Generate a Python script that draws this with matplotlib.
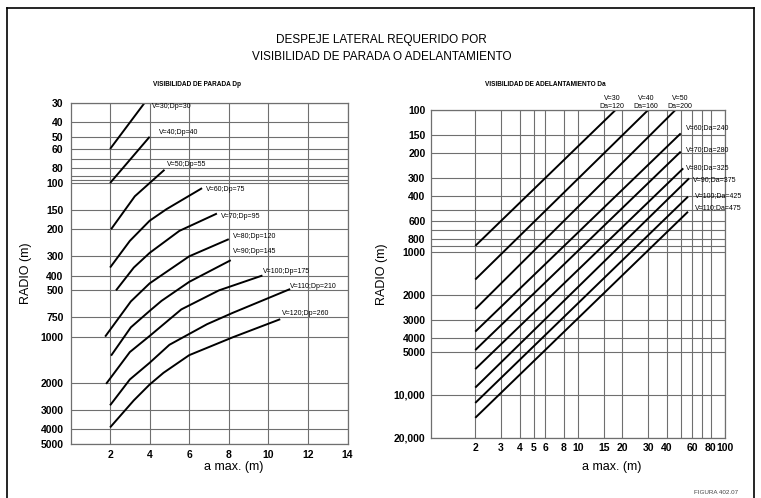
import matplotlib.pyplot as plt
from matplotlib.ticker import FixedLocator, NullFormatter, FixedFormatter
import numpy as np

# ---- Visibilidad de parada: puntos (a max, radio) de cada curva ----
parada_labels = ["V=30;Dp=30", "V=40;Dp=40", "V=50;Dp=55", "V=60;Dp=75", "V=70;Dp=95",
                 "V=80;Dp=120", "V=90;Dp=145", "V=100;Dp=175", "V=110;Dp=210", "V=120;Dp=260"]
parada_a = [
    [2.0, 3.75],
    [2.0, 4.0],
    [2.05, 3.25, 4.75],
    [2.0, 3.0, 4.0, 4.85, 6.65],
    [2.3, 3.2, 4.0, 5.5, 7.4],
    [1.75, 3.05, 4.0, 6.0, 8.0],
    [2.05, 3.05, 4.0, 4.6, 6.0, 8.1],
    [1.8, 3.0, 4.0, 5.6, 7.5, 9.7],
    [2.0, 3.0, 4.0, 5.0, 6.9, 8.2, 11.1],
    [2.0, 3.2, 4.0, 4.7, 6.0, 8.2, 10.6],
]
parada_r = [
    [60, 30],
    [100, 50],
    [200, 122, 82],
    [355, 238, 176, 148, 108],
    [500, 355, 285, 205, 158],
    [1000, 590, 450, 300, 232],
    [1330, 870, 680, 585, 440, 318],
    [2030, 1260, 990, 665, 500, 400],
    [2800, 1900, 1480, 1130, 830, 700, 490],
    [3900, 2600, 2050, 1720, 1320, 1010, 770],
]

# ---- Visibilidad de adelantamiento: rectas en log-log (inicio en a=2) ----
adel_labels = ["V=30\nDa=120", "V=40\nDa=160", "V=50\nDa=200", "V=60;Da=240", "V=70;Da=280",
               "V=80;Da=325", "V=90;Da=375", "V=100;Da=425", "V=110;Da=475"]
adel_a_ini = [2, 2, 2, 2, 2, 2, 2, 2, 2]
adel_r_ini = [900, 1550, 2500, 3600, 4850, 6600, 8900, 11400, 14500]
adel_a_fin = [18, 30, 46, 50, 50, 52, 57, 56, 56]
adel_r_fin = [100, 100, 100, 146, 196, 257, 302, 406, 518]

# ejes y rejillas
izq_yticks = [30, 40, 50, 60, 80, 100, 150, 200, 300, 400, 500, 750, 1000, 2000, 3000, 4000, 5000]
izq_yextra = [70, 90, 95]
izq_xticks = [2, 4, 6, 8, 10, 12, 14]
der_yticks = [100, 150, 200, 300, 400, 600, 800, 1000, 2000, 3000, 4000, 5000, 10000, 20000]
der_ylabels = ["100", "150", "200", "300", "400", "600", "800", "1000", "2000", "3000", "4000",
               "5000", "10,000", "20,000"]
der_yextra = [500, 700, 900]
der_xticks = [2, 3, 4, 5, 6, 8, 10, 15, 20, 30, 40, 60, 80, 100]
der_xextra = [50, 70]

W, H = 761, 498
SANS = ['Liberation Sans', 'DejaVu Sans']
GRID = '#6f6f6f'

fig = plt.figure(figsize=(W / 100, H / 100), dpi=100)


def box(x0, y0, x1, y1):
    return [x0 / W, 1 - y1 / H, (x1 - x0) / W, (y1 - y0) / H]


def ftext(x, y, s, **kw):
    fig.text(x / W, 1 - y / H, s, family=SANS, **kw)


def estilo(ax):
    for sp in ax.spines.values():
        sp.set_color(GRID)
        sp.set_linewidth(0.9)
    ax.grid(True, which='both', color=GRID, linewidth=0.8)
    ax.tick_params(which='both', length=0, labelsize=7.5, colors='black')
    for lab in ax.get_xticklabels() + ax.get_yticklabels():
        lab.set_family(SANS)
        lab.set_fontweight('bold')


# panel izquierdo
ax1 = fig.add_axes(box(70.5, 102.7, 347.5, 444))
ax1.set_yscale('log')
ax1.set_ylim(5000, 30)
ax1.set_xlim(0, 14)
ax1.yaxis.set_major_locator(FixedLocator(izq_yticks))
ax1.yaxis.set_major_formatter(FixedFormatter([str(v) for v in izq_yticks]))
ax1.yaxis.set_minor_locator(FixedLocator(izq_yextra))
ax1.yaxis.set_minor_formatter(NullFormatter())
ax1.xaxis.set_major_locator(FixedLocator(izq_xticks))
ax1.tick_params(axis='y', pad=5)
ax1.tick_params(axis='x', pad=4)
estilo(ax1)
for a, r in zip(parada_a, parada_r):
    ax1.plot(a, r, color='black', linewidth=1.4, solid_capstyle='butt')
ax1.set_ylabel("RADIO (m)", fontsize=9, family=SANS, labelpad=6)
ax1.text(0.59, -0.066, "a max. (m)", transform=ax1.transAxes, ha='center', va='center',
         fontsize=9, family=SANS)

# panel derecho
ax2 = fig.add_axes(box(431, 110, 725, 437.7))
ax2.set_xscale('log')
ax2.set_yscale('log')
ax2.set_xlim(1, 100)
ax2.set_ylim(20000, 100)
ax2.yaxis.set_major_locator(FixedLocator(der_yticks))
ax2.yaxis.set_major_formatter(FixedFormatter(der_ylabels))
ax2.yaxis.set_minor_locator(FixedLocator(der_yextra))
ax2.yaxis.set_minor_formatter(NullFormatter())
ax2.xaxis.set_major_locator(FixedLocator(der_xticks))
ax2.xaxis.set_major_formatter(FixedFormatter([str(v) for v in der_xticks]))
ax2.xaxis.set_minor_locator(FixedLocator(der_xextra))
ax2.xaxis.set_minor_formatter(NullFormatter())
ax2.tick_params(axis='y', pad=4)
ax2.tick_params(axis='x', pad=4)
estilo(ax2)
for a0, r0, a1, r1 in zip(adel_a_ini, adel_r_ini, adel_a_fin, adel_r_fin):
    ax2.plot([a0, a1], [r0, r1], color='black', linewidth=1.4, solid_capstyle='butt')
ax2.set_ylabel("RADIO (m)", fontsize=9, family=SANS, labelpad=4)
ax2.text(0.615, -0.09, "a max. (m)", transform=ax2.transAxes, ha='center', va='center',
         fontsize=9, family=SANS)

# rotulos de curvas
izq_pos = [(151.7, 106.7), (159.3, 132.7), (166.7, 164), (206, 189), (220.7, 216),
           (233.3, 236.7), (233.3, 251.7), (263.3, 271.7), (290, 286), (281.7, 313.3)]
for s, (x, y) in zip(parada_labels, izq_pos):
    ftext(x, y, s, fontsize=5, ha='left', va='center')

der_pos = [(612, 110), (646, 110), (680, 110), (686, 127.3), (686, 150), (686, 167.3),
           (693, 179.3), (695, 195.3), (695, 208)]
for s, (x, y) in zip(adel_labels, der_pos):
    if "\n" in s:
        ftext(x, y, s, fontsize=5, ha='center', va='bottom', linespacing=1.3)
    else:
        ftext(x, y, s, fontsize=5, ha='left', va='center')

# titulos
ftext(381, 40, "DESPEJE LATERAL REQUERIDO POR", fontsize=8.5, ha='center', va='center')
ftext(382, 57, "VISIBILIDAD DE PARADA O ADELANTAMIENTO", fontsize=8.5, ha='center', va='center')
ftext(197, 84, "VISIBILIDAD DE PARADA Dp", fontsize=4.7, ha='center', va='center',
      fontweight='bold')
ftext(545, 84, "VISIBILIDAD DE ADELANTAMIENTO Da", fontsize=4.7, ha='center', va='center',
      fontweight='bold')
ftext(716, 492, "FIGURA 402.07", fontsize=4.5, ha='center', va='center', color='#444444')

# marco
fig.add_artist(plt.Line2D([7 / W, 7 / W], [0, 1 - 8 / H], color='black', linewidth=1.2))
fig.add_artist(plt.Line2D([7 / W, 754 / W], [1 - 8 / H, 1 - 8 / H], color='black', linewidth=1.2))
fig.add_artist(plt.Line2D([754 / W, 754 / W], [0, 1 - 8 / H], color='black', linewidth=1.2))

fig.savefig("out.png", dpi=100)
